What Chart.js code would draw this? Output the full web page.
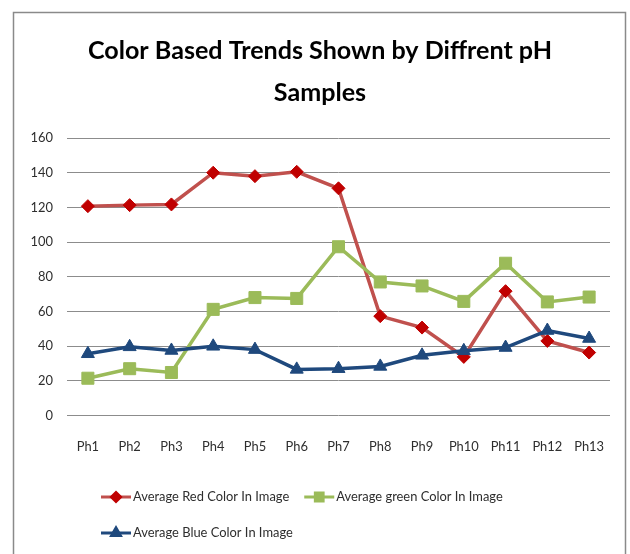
<!DOCTYPE html>
<html>
<head>
<meta charset="utf-8">
<script src="https://cdn.jsdelivr.net/npm/chart.js@4.4.0/dist/chart.umd.min.js"></script>
<style>
  html, body { margin: 0; padding: 0; background: #fff; }
  #wrap { width: 630px; height: 554px; }
</style>
</head>
<body>
<div id="wrap"><canvas id="chart" width="630" height="554"></canvas></div>
<script>
(function () {
  'use strict';

  var categories = ['Ph1', 'Ph2', 'Ph3', 'Ph4', 'Ph5', 'Ph6', 'Ph7', 'Ph8', 'Ph9', 'Ph10', 'Ph11', 'Ph12', 'Ph13'];
  var redValues = [120.7, 121.3, 121.7, 140, 138, 140.5, 131, 57.3, 50.7, 33.8, 71.7, 43, 36.3];
  var greenValues = [21.5, 27, 24.8, 61.2, 68, 67.5, 97.3, 77, 74.7, 65.8, 87.8, 65.5, 68.3];
  var blueValues = [35.6, 39.6, 37.5, 39.9, 38, 26.6, 27, 28.3, 34.7, 37.3, 39.2, 49, 44.4];
  var yMin = 0, yMax = 160, yStep = 20;

  var FONT = 'Lato, "Open Sans", "Liberation Sans", sans-serif';
  var textColor = '#2e2e2e';
  var gridColor = '#8c8c8c';
  var titleLines = ['Color Based Trends Shown by Diffrent pH', 'Samples'];

  // pick a font size so a string comes out about as wide as in the picture
  var measureCtx = document.createElement('canvas').getContext('2d');
  function fitSize(text, weight, target) {
    measureCtx.font = weight + ' 100px ' + FONT;
    return Math.round(100 * target / measureCtx.measureText(text).width * 10) / 10;
  }
  var titleSize = fitSize(titleLines[0], 'bold', 464);
  var labelSize = fitSize('Average Red Color In Image', 'normal', 156);

  function drawMarker(ctx, style, r, x, y, color) {
    ctx.fillStyle = color;
    ctx.strokeStyle = color;
    if (Chart.helpers && Chart.helpers.drawPoint) {
      Chart.helpers.drawPoint(ctx, { pointStyle: style, radius: r, rotation: 0, borderWidth: 1 }, x, y);
    }
  }

  var framePlugin = {
    id: 'frame',
    beforeDraw: function (chart) {
      var ctx = chart.ctx;
      ctx.save();
      ctx.fillStyle = '#ffffff';
      ctx.fillRect(0, 0, chart.width, chart.height);
      ctx.strokeStyle = '#8a8a8a';
      ctx.lineWidth = 1.5;
      ctx.strokeRect(13.5, 12.5, 612, 600);
      ctx.restore();
    }
  };

  var legendPlugin = {
    id: 'sampleLegend',
    afterDraw: function (chart) {
      var ctx = chart.ctx;
      var startX = 101, x = startX, y = 497, rowGap = 36, maxRight = 580;
      ctx.save();
      ctx.font = labelSize + 'px ' + FONT;
      ctx.textBaseline = 'middle';
      ctx.textAlign = 'left';
      chart.data.datasets.forEach(function (ds) {
        var tw = ctx.measureText(ds.label).width;
        var w = 30 + 2 + tw;
        if (x > startX && x + w > maxRight) { x = startX; y += rowGap; }
        ctx.strokeStyle = ds.borderColor;
        ctx.lineWidth = 3;
        ctx.beginPath();
        ctx.moveTo(x, y);
        ctx.lineTo(x + 30, y);
        ctx.stroke();
        drawMarker(ctx, ds.pointStyle, ds.legendRadius, x + 15, y, ds.pointBackgroundColor);
        ctx.fillStyle = textColor;
        ctx.fillText(ds.label, x + 32, y);
        x += w + 15;
      });
      ctx.restore();
    }
  };

  new Chart(document.getElementById('chart').getContext('2d'), {
    type: 'line',
    data: {
      labels: categories,
      datasets: [{
        label: 'Average Red Color In Image',
        data: redValues,
        borderColor: '#c0504d',
        borderWidth: 3.5,
        pointStyle: 'rectRot',
        pointRadius: 6.5,
        pointBackgroundColor: '#c00000',
        pointBorderColor: '#c00000',
        pointBorderWidth: 1,
        legendRadius: 4.5,
        tension: 0,
        order: 3
      }, {
        label: 'Average green Color In Image',
        data: greenValues,
        borderColor: '#9bbb59',
        borderWidth: 3.5,
        pointStyle: 'rect',
        pointRadius: 8.5,
        pointBackgroundColor: '#9bbb59',
        pointBorderColor: '#9bbb59',
        pointBorderWidth: 1,
        legendRadius: 5.5,
        tension: 0,
        order: 2
      }, {
        label: 'Average Blue Color In Image',
        data: blueValues,
        borderColor: '#1f497d',
        borderWidth: 3.5,
        pointStyle: 'triangle',
        pointRadius: 7.5,
        pointBackgroundColor: '#1f497d',
        pointBorderColor: '#1f497d',
        pointBorderWidth: 1,
        legendRadius: 5,
        tension: 0,
        order: 1
      }]
    },
    options: {
      responsive: false,
      animation: false,
      devicePixelRatio: 1,
      layout: { padding: { left: 30, right: 20, top: 0, bottom: 75 } },
      plugins: {
        legend: { display: false },
        tooltip: { enabled: false },
        title: {
          display: true,
          text: titleLines,
          color: '#000000',
          font: { family: FONT, size: titleSize, weight: 'bold', lineHeight: 42 / titleSize },
          padding: { top: 30, bottom: 24 }
        }
      },
      scales: {
        x: {
          offset: true,
          grid: { display: false, drawTicks: false },
          border: { display: false },
          ticks: {
            color: textColor,
            font: { family: FONT, size: labelSize },
            padding: 24,
            maxRotation: 0,
            autoSkip: false
          }
        },
        y: {
          min: yMin,
          max: yMax,
          grid: { color: gridColor, lineWidth: 1, drawTicks: false },
          border: { display: false },
          ticks: {
            stepSize: yStep,
            color: textColor,
            font: { family: FONT, size: labelSize },
            padding: 14
          },
          afterFit: function (scale) { scale.width = 37; }
        }
      }
    },
    plugins: [framePlugin, legendPlugin]
  });
})();
</script>
</body>
</html>
